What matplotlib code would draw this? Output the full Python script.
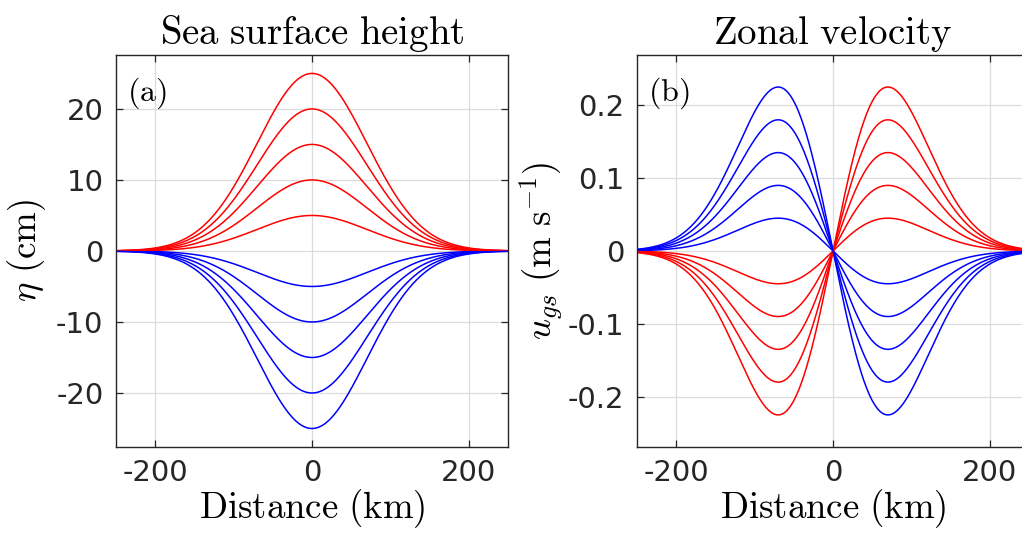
import numpy as np
import matplotlib
matplotlib.use("Agg")
import matplotlib.pyplot as plt

# amplitudes
eta_amp = [5, 10, 15, 20, 25]                 # cm, red positive / blue negative
u_peak = [0.045, 0.09, 0.135, 0.18, 0.225]    # m/s, peak of the geostrophic velocity
x_peak = 70.0                                 # km, position of the velocity peak
xticks = [-200, 0, 200]
xticklabels = ["-200", "0", "200"]
eta_ticks = [-20, -10, 0, 10, 20]
eta_ticklabels = ["-20", "-10", "0", "10", "20"]
u_ticks = [-0.2, -0.1, 0, 0.1, 0.2]
u_ticklabels = ["-0.2", "-0.1", "0", "0.1", "0.2"]

plt.rcParams["mathtext.fontset"] = "cm"
plt.rcParams["font.family"] = "DejaVu Sans"

x = np.linspace(-250, 250, 801)
L = x_peak * np.sqrt(2)
shape = np.exp(-x**2 / L**2)
dshape = (x / x_peak) * np.exp(0.5 - x**2 / L**2)   # normalised so peak magnitude = 1

fig = plt.figure(figsize=(10.22, 5.33), dpi=100)
ax1 = fig.add_axes([0.1135, 0.1614, 0.3836, 0.7355])
ax2 = fig.add_axes([0.6233, 0.1614, 0.3836, 0.7355])

for a in eta_amp:
    ax1.plot(x, a * shape, color="red", lw=1.1)
    ax1.plot(x, -a * shape, color="blue", lw=1.1)
for u in u_peak:
    ax2.plot(x, u * dshape, color="red", lw=1.1)
    ax2.plot(x, -u * dshape, color="blue", lw=1.1)

tc = "#262626"
for ax in (ax1, ax2):
    ax.set_xlim(-250, 250)
    ax.set_xticks(xticks)
    ax.set_xticklabels(xticklabels)
    ax.grid(True, color="#dcdcdc", lw=0.9)
    ax.set_axisbelow(True)
    ax.tick_params(direction="in", top=True, right=True, length=5, width=0.9,
                   labelsize=21, colors=tc, pad=9)
    for s in ax.spines.values():
        s.set_color(tc)
        s.set_linewidth(1.0)
    ax.set_xlabel(r"$\mathrm{Distance\ (km)}$", fontsize=26.5, labelpad=0)

ax1.set_ylim(-27.6, 27.6)
ax1.set_yticks(eta_ticks)
ax1.set_yticklabels(eta_ticklabels)
ax1.set_title(r"$\mathrm{Sea\ surface\ height}$", fontsize=28, pad=8)
ax1.set_ylabel(r"$\eta\ \mathrm{(cm)}$", fontsize=26.5, labelpad=6)
ax1.text(0.028, 0.948, r"$\mathrm{(a)}$", transform=ax1.transAxes, fontsize=23, va="top")

ax2.set_ylim(-0.269, 0.269)
ax2.set_yticks(u_ticks)
ax2.set_yticklabels(u_ticklabels)
ax2.set_title(r"$\mathrm{Zonal\ velocity}$", fontsize=28, pad=8)
ax2.set_ylabel(r"$u_{gs}\ \mathrm{(m\ s^{-1})}$", fontsize=26.5, labelpad=2)
ax2.text(0.028, 0.948, r"$\mathrm{(b)}$", transform=ax2.transAxes, fontsize=23, va="top")

fig.savefig("out.png", dpi=100)
